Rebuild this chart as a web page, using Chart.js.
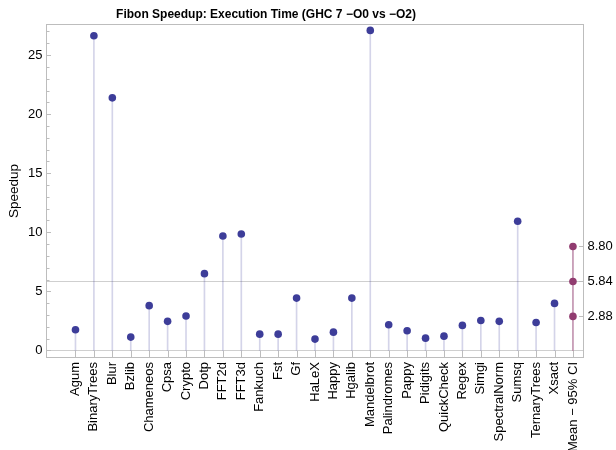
<!DOCTYPE html>
<html>
<head>
<meta charset="utf-8">
<script src="https://cdn.jsdelivr.net/npm/chart.js@4"></script>
<style>
  html, body { margin: 0; padding: 0; background: #fff; }
  #wrap { width: 616px; height: 450px; }
</style>
</head>
<body>
<div id="wrap"><canvas id="speedupChart"></canvas></div>
<script>
// benchmark names and their -O2 speedup over -O0
var benchmarks = ["Agum", "BinaryTrees", "Blur", "Bzlib", "Chameneos", "Cpsa", "Crypto", "Dotp",
  "FFT2d", "FFT3d", "Fankuch", "Fst", "Gf", "HaLeX", "Happy", "Hgalib", "Mandelbrot",
  "Palindromes", "Pappy", "Pidigits", "QuickCheck", "Regex", "Simgi", "SpectralNorm",
  "Sumsq", "TernaryTrees", "Xsact"];
var speedups = [1.75, 26.64, 21.38, 1.13, 3.79, 2.46, 2.91, 6.50,
  9.69, 9.86, 1.38, 1.38, 4.43, 0.96, 1.55, 4.43, 27.09,
  2.18, 1.67, 1.04, 1.21, 2.12, 2.54, 2.46,
  10.93, 2.37, 3.98];

var ciLabel = "Mean \u2212 95% CI";
var ciValues = [2.88, 5.84, 8.80]; // low, mean, high
var meanValue = 5.84;

var categories = benchmarks.concat([ciLabel]);
var yTicks = [0, 5, 10, 15, 20, 25];

var blue = "rgb(61,61,153)";
var blueStem = "rgba(61,61,153,0.22)";
var purple = "rgb(145,60,112)";
var purpleStem = "rgba(145,60,112,0.55)";
var frameColor = "#bdbdbd";

Chart.defaults.font.family = '"Liberation Sans", Arial, Helvetica, sans-serif';
Chart.defaults.color = "#000";

var benchPoints = speedups.map(function (v, i) { return { x: i + 1, y: v }; });
var ciX = categories.length;
var ciPoints = ciValues.map(function (v) { return { x: ciX, y: v }; });

// frame, inward ticks, reference lines and the title (Mathematica style)
var framePlugin = {
  id: "frame",
  beforeDatasetsDraw: function (chart) {
    var ctx = chart.ctx, a = chart.chartArea, y = chart.scales.y;
    ctx.save();
    ctx.lineWidth = 1;
    ctx.strokeStyle = "#cfcfcf";
    var y0 = Math.round(y.getPixelForValue(0)) + 0.5;
    var ym = Math.round(y.getPixelForValue(meanValue)) + 0.5;
    ctx.beginPath();
    ctx.moveTo(a.left, y0); ctx.lineTo(a.right, y0);
    ctx.moveTo(a.left, ym); ctx.lineTo(a.right, ym);
    ctx.stroke();
    ctx.restore();
  },
  afterDatasetsDraw: function (chart) {
    var ctx = chart.ctx, a = chart.chartArea, x = chart.scales.x, y = chart.scales.y;
    ctx.save();
    ctx.lineWidth = 1;
    ctx.strokeStyle = frameColor;
    ctx.strokeRect(Math.round(a.left) + 0.5, Math.round(a.top) + 0.5,
      Math.round(a.right - a.left) - 1, Math.round(a.bottom - a.top) - 1);
    ctx.beginPath();
    // left minor / major ticks
    for (var v = Math.ceil(y.min); v <= y.max; v++) {
      var py = Math.round(y.getPixelForValue(v)) + 0.5;
      var len = (v % 5 === 0) ? 4 : 2.5;
      ctx.moveTo(a.left, py); ctx.lineTo(a.left + 1 + len, py);
    }
    // bottom ticks at each category
    for (var i = 1; i <= categories.length; i++) {
      var px = Math.round(x.getPixelForValue(i)) + 0.5;
      ctx.moveTo(px, a.bottom); ctx.lineTo(px, a.bottom - 7);
    }
    // right ticks for CI values
    ciValues.forEach(function (cv) {
      var py = Math.round(y.getPixelForValue(cv)) + 0.5;
      ctx.moveTo(a.right, py); ctx.lineTo(a.right - 5, py);
    });
    ctx.stroke();
    ctx.restore();
  },
  afterDraw: function (chart) {
    var ctx = chart.ctx;
    ctx.save();
    ctx.font = 'bold 12px "Liberation Sans", Arial, sans-serif';
    ctx.fillStyle = "#000";
    ctx.textAlign = "center";
    ctx.textBaseline = "middle";
    ctx.fillText("Fibon Speedup: Execution Time (GHC 7 \u2212O0 vs \u2212O2)", 266, 15);
    ctx.restore();
  }
};

new Chart(document.getElementById("speedupChart"), {
  type: "scatter",
  data: {
    datasets: [
      {
        type: "bar",
        label: "stems",
        data: benchPoints,
        backgroundColor: blueStem,
        barThickness: 1,
        grouped: false,
        order: 3
      },
      {
        type: "bar",
        label: "ci stem",
        data: [{ x: ciX, y: Math.max.apply(null, ciValues) }],
        backgroundColor: purpleStem,
        barThickness: 1,
        grouped: false,
        order: 3
      },
      {
        label: "Speedup",
        data: benchPoints,
        pointRadius: 3.8,
        pointBackgroundColor: blue,
        pointBorderWidth: 0,
        order: 1
      },
      {
        label: "Mean - 95% CI",
        data: ciPoints,
        pointRadius: 3.8,
        pointBackgroundColor: purple,
        pointBorderWidth: 0,
        order: 1
      }
    ]
  },
  options: {
    responsive: true,
    maintainAspectRatio: false,
    animation: false,
    layout: { padding: { top: 24, left: 0, right: 0, bottom: 0 } },
    plugins: {
      legend: { display: false },
      title: { display: false },
      tooltip: { enabled: false }
    },
    scales: {
      x: {
        type: "linear",
        offset: false,
        min: -0.6,
        max: categories.length + 0.6,
        grid: { display: false, drawTicks: false, offset: false },
        border: { display: false },
        afterBuildTicks: function (scale) {
          scale.ticks = categories.map(function (c, i) { return { value: i + 1 }; });
        },
        afterFit: function (scale) {
          scale.height = 92;
          scale.paddingLeft = 0;
          scale.paddingRight = 0;
        },
        ticks: {
          autoSkip: false,
          minRotation: 90,
          maxRotation: 90,
          padding: 4,
          font: { size: 13 },
          callback: function (value) { return categories[value - 1] || ""; }
        }
      },
      y: {
        position: "left",
        min: -0.64,
        max: 27.63,
        grid: { display: false, drawTicks: false },
        border: { display: false },
        afterBuildTicks: function (scale) {
          scale.ticks = yTicks.map(function (v) { return { value: v }; });
        },
        afterFit: function (scale) { scale.width = 46; },
        ticks: { padding: 3.5, font: { size: 13 } },
        title: {
          display: true,
          text: "Speedup",
          font: { size: 13.5 },
          padding: { top: 6, bottom: 0 }
        }
      },
      y2: {
        position: "right",
        min: -0.64,
        max: 27.63,
        grid: { display: false, drawTicks: false },
        border: { display: false },
        afterBuildTicks: function (scale) {
          scale.ticks = ciValues.map(function (v) { return { value: v }; });
        },
        afterFit: function (scale) { scale.width = 32; },
        ticks: {
          padding: 3.5,
          font: { size: 13 },
          callback: function (value) { return Number(value).toFixed(2); }
        }
      }
    }
  },
  plugins: [framePlugin]
});
</script>
</body>
</html>
